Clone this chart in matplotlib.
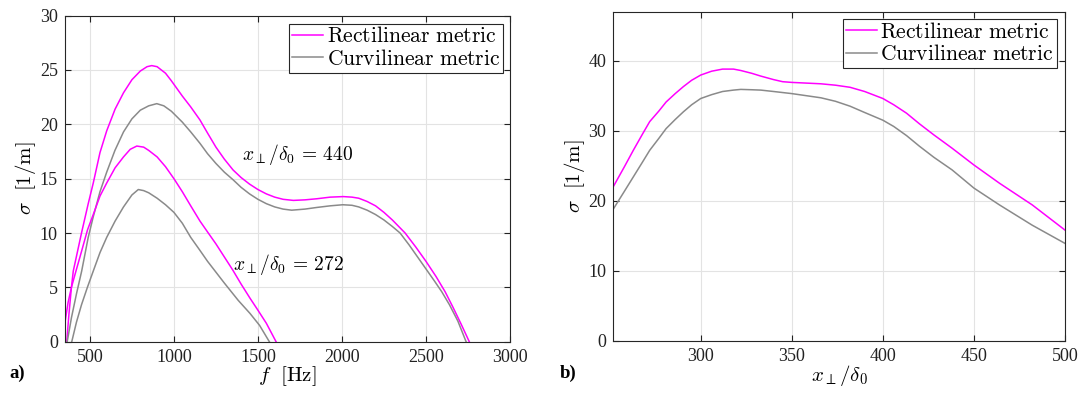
import matplotlib
matplotlib.use("Agg")
import matplotlib.pyplot as plt

plt.rcParams['font.family'] = ['Liberation Serif', 'DejaVu Serif']
plt.rcParams['mathtext.fontset'] = 'cm'

# ---- panel a) growth rate vs frequency ----
f_rect_440 = [362, 375, 390, 401, 450, 490, 520, 560, 600, 650, 700, 750, 800, 840, 868,
              900, 950, 985, 1050, 1100, 1155, 1200, 1250, 1300, 1352, 1400, 1450, 1500,
              1550, 1600, 1650, 1711, 1780, 1850, 1930, 2008, 2060, 2100, 2150, 2200,
              2250, 2300, 2376, 2440, 2500, 2560, 2614, 2660, 2710, 2758]
s_rect_440 = [0, 2.5, 5.0, 6.5, 10.0, 12.7, 14.6, 17.4, 19.4, 21.4, 22.9, 24.1, 24.9, 25.3, 25.4,
              25.3, 24.7, 24.0, 22.6, 21.6, 20.4, 19.2, 17.9, 16.8, 15.8, 15.1, 14.5, 14.0,
              13.6, 13.3, 13.1, 13.0, 13.05, 13.15, 13.3, 13.35, 13.3, 13.2, 12.9, 12.5,
              11.9, 11.2, 10.0, 8.7, 7.4, 6.0, 4.6, 3.2, 1.6, 0]

f_curv_440 = [365, 390, 420, 451, 490, 520, 560, 600, 649, 700, 750, 800, 850, 898, 940,
              985, 1050, 1100, 1155, 1200, 1250, 1300, 1352, 1400, 1450, 1500, 1550, 1600,
              1650, 1701, 1780, 1850, 1930, 2005, 2060, 2100, 2150, 2200, 2250, 2300, 2346,
              2400, 2450, 2500, 2550, 2594, 2640, 2690, 2739]
s_curv_440 = [0, 2.2, 4.4, 6.5, 9.6, 11.5, 13.8, 15.6, 17.6, 19.3, 20.5, 21.3, 21.7, 21.9, 21.7,
              21.2, 20.2, 19.3, 18.25, 17.3, 16.4, 15.6, 14.9, 14.2, 13.6, 13.1, 12.7, 12.4,
              12.2, 12.1, 12.2, 12.35, 12.5, 12.6, 12.55, 12.4, 12.1, 11.7, 11.2, 10.6, 10.0,
              8.9, 7.8, 6.7, 5.6, 4.6, 3.4, 1.9, 0]

f_rect_272 = [350, 370, 390, 417, 450, 486, 520, 560, 600, 650, 700, 740, 779, 820, 850,
              900, 950, 1000, 1050, 1100, 1155, 1200, 1250, 1300, 1350, 1400, 1453, 1500,
              1550, 1608]
s_rect_272 = [1.6, 3.6, 5.0, 6.5, 8.3, 10.3, 11.7, 13.4, 14.6, 16.0, 17.0, 17.7, 18.0, 17.9, 17.6,
              17.0, 16.1, 15.0, 13.8, 12.5, 11.1, 10.1, 9.0, 7.8, 6.6, 5.3, 4.0, 2.9,
              1.7, 0]

f_curv_272 = [392, 420, 450, 485, 520, 560, 600, 650, 700, 750, 788, 820, 850, 900, 950,
              1000, 1050, 1100, 1155, 1200, 1250, 1300, 1383, 1453, 1510, 1568]
s_curv_272 = [0, 1.8, 3.4, 5.0, 6.5, 8.2, 9.6, 11.1, 12.4, 13.5, 14.0, 13.9, 13.7, 13.2, 12.6,
              11.9, 10.9, 9.6, 8.4, 7.4, 6.4, 5.4, 3.8, 2.6, 1.5, 0]

# ---- panel b) growth rate vs x_perp/delta_0 ----
x_pos = [252, 258, 263, 268, 272, 277, 281, 286, 290.5, 295, 300, 306, 312, 318, 322, 328,
         333, 340, 345, 350, 358, 366, 374, 382, 390, 400, 406, 413, 420, 428, 438, 450,
         464, 482, 500]
s_rect_b = [22.0, 24.8, 27.2, 29.5, 31.3, 32.8, 34.1, 35.3, 36.3, 37.2, 37.95, 38.5, 38.8, 38.8,
            38.6, 38.2, 37.8, 37.3, 37.0, 36.9, 36.8, 36.7, 36.5, 36.2, 35.6, 34.6, 33.7,
            32.5, 31.0, 29.4, 27.5, 25.1, 22.5, 19.4, 15.8]
s_curv_b = [18.8, 21.3, 23.4, 25.5, 27.2, 28.9, 30.3, 31.6, 32.7, 33.7, 34.6, 35.15, 35.6, 35.8,
            35.9, 35.85, 35.8, 35.6, 35.45, 35.3, 35.0, 34.7, 34.2, 33.5, 32.6, 31.5, 30.6,
            29.3, 27.8, 26.2, 24.4, 21.8, 19.4, 16.5, 13.9]

MAG = '#ff00ff'
GRY = '#8a8a8a'
lab_rect = r'$\mathrm{Rectilinear\ metric}$'
lab_curv = r'$\mathrm{Curvilinear\ metric}$'

fig = plt.figure(figsize=(10.82, 3.94), dpi=100)
ax1 = fig.add_axes([0.0598, 0.1327, 0.4115, 0.8277])
ax2 = fig.add_axes([0.5668, 0.1353, 0.4175, 0.8350])


def style(ax):
    ax.grid(True, color='#e3e3e3', lw=0.8)
    ax.set_axisbelow(True)
    ax.tick_params(direction='in', length=4, width=0.8, top=True, right=True,
                   labelsize=13, pad=5, colors='#222222')
    for s in ax.spines.values():
        s.set_color('#262626')
        s.set_linewidth(0.8)


ax1.plot(f_rect_440, s_rect_440, color=MAG, lw=1.1, label=lab_rect)
ax1.plot(f_curv_440, s_curv_440, color=GRY, lw=1.1, label=lab_curv)
ax1.plot(f_rect_272, s_rect_272, color=MAG, lw=1.1)
ax1.plot(f_curv_272, s_curv_272, color=GRY, lw=1.1)
ax1.set_xlim(350, 3000)
ax1.set_ylim(0, 30)
ax1.set_xticks([500, 1000, 1500, 2000, 2500, 3000])
ax1.set_yticks([0, 5, 10, 15, 20, 25, 30])
style(ax1)
ax1.set_xlabel(r'$f\ \ [\mathrm{Hz}]$', fontsize=15, labelpad=-1)
ax1.set_ylabel(r'$\sigma\ \ [1/\mathrm{m}]$', fontsize=15, labelpad=1)
ax1.text(1403, 17.2, r'$x_\perp/\delta_0\,=\,440$', fontsize=14, va='center')
ax1.text(1354, 7.06, r'$x_\perp/\delta_0\,=\,272$', fontsize=14, va='center')

ax2.plot(x_pos, s_rect_b, color=MAG, lw=1.1, label=lab_rect)
ax2.plot(x_pos, s_curv_b, color=GRY, lw=1.1, label=lab_curv)
ax2.set_xlim(252, 500)
ax2.set_ylim(0, 47)
ax2.set_xticks([300, 350, 400, 450, 500])
ax2.set_yticks([0, 10, 20, 30, 40])
style(ax2)
ax2.set_xlabel(r'$x_\perp/\delta_0$', fontsize=15, labelpad=-1)
ax2.set_ylabel(r'$\sigma\ \ [1/\mathrm{m}]$', fontsize=15, labelpad=1)

for ax, anchor in ((ax1, (0.985, 0.974)), (ax2, (0.982, 0.977))):
    leg = ax.legend(loc='upper right', bbox_to_anchor=anchor, borderaxespad=0,
                    fontsize=15.5, handlelength=1.45, handletextpad=0.15,
                    borderpad=0.15, labelspacing=0.12, fancybox=False,
                    framealpha=1, edgecolor='#262626')
    leg.get_frame().set_linewidth(0.8)

fig.text(0.009, 0.04, 'a)', fontsize=13.5, fontweight='bold')
fig.text(0.517, 0.04, 'b)', fontsize=13.5, fontweight='bold')

fig.savefig('out.png', dpi=100)
